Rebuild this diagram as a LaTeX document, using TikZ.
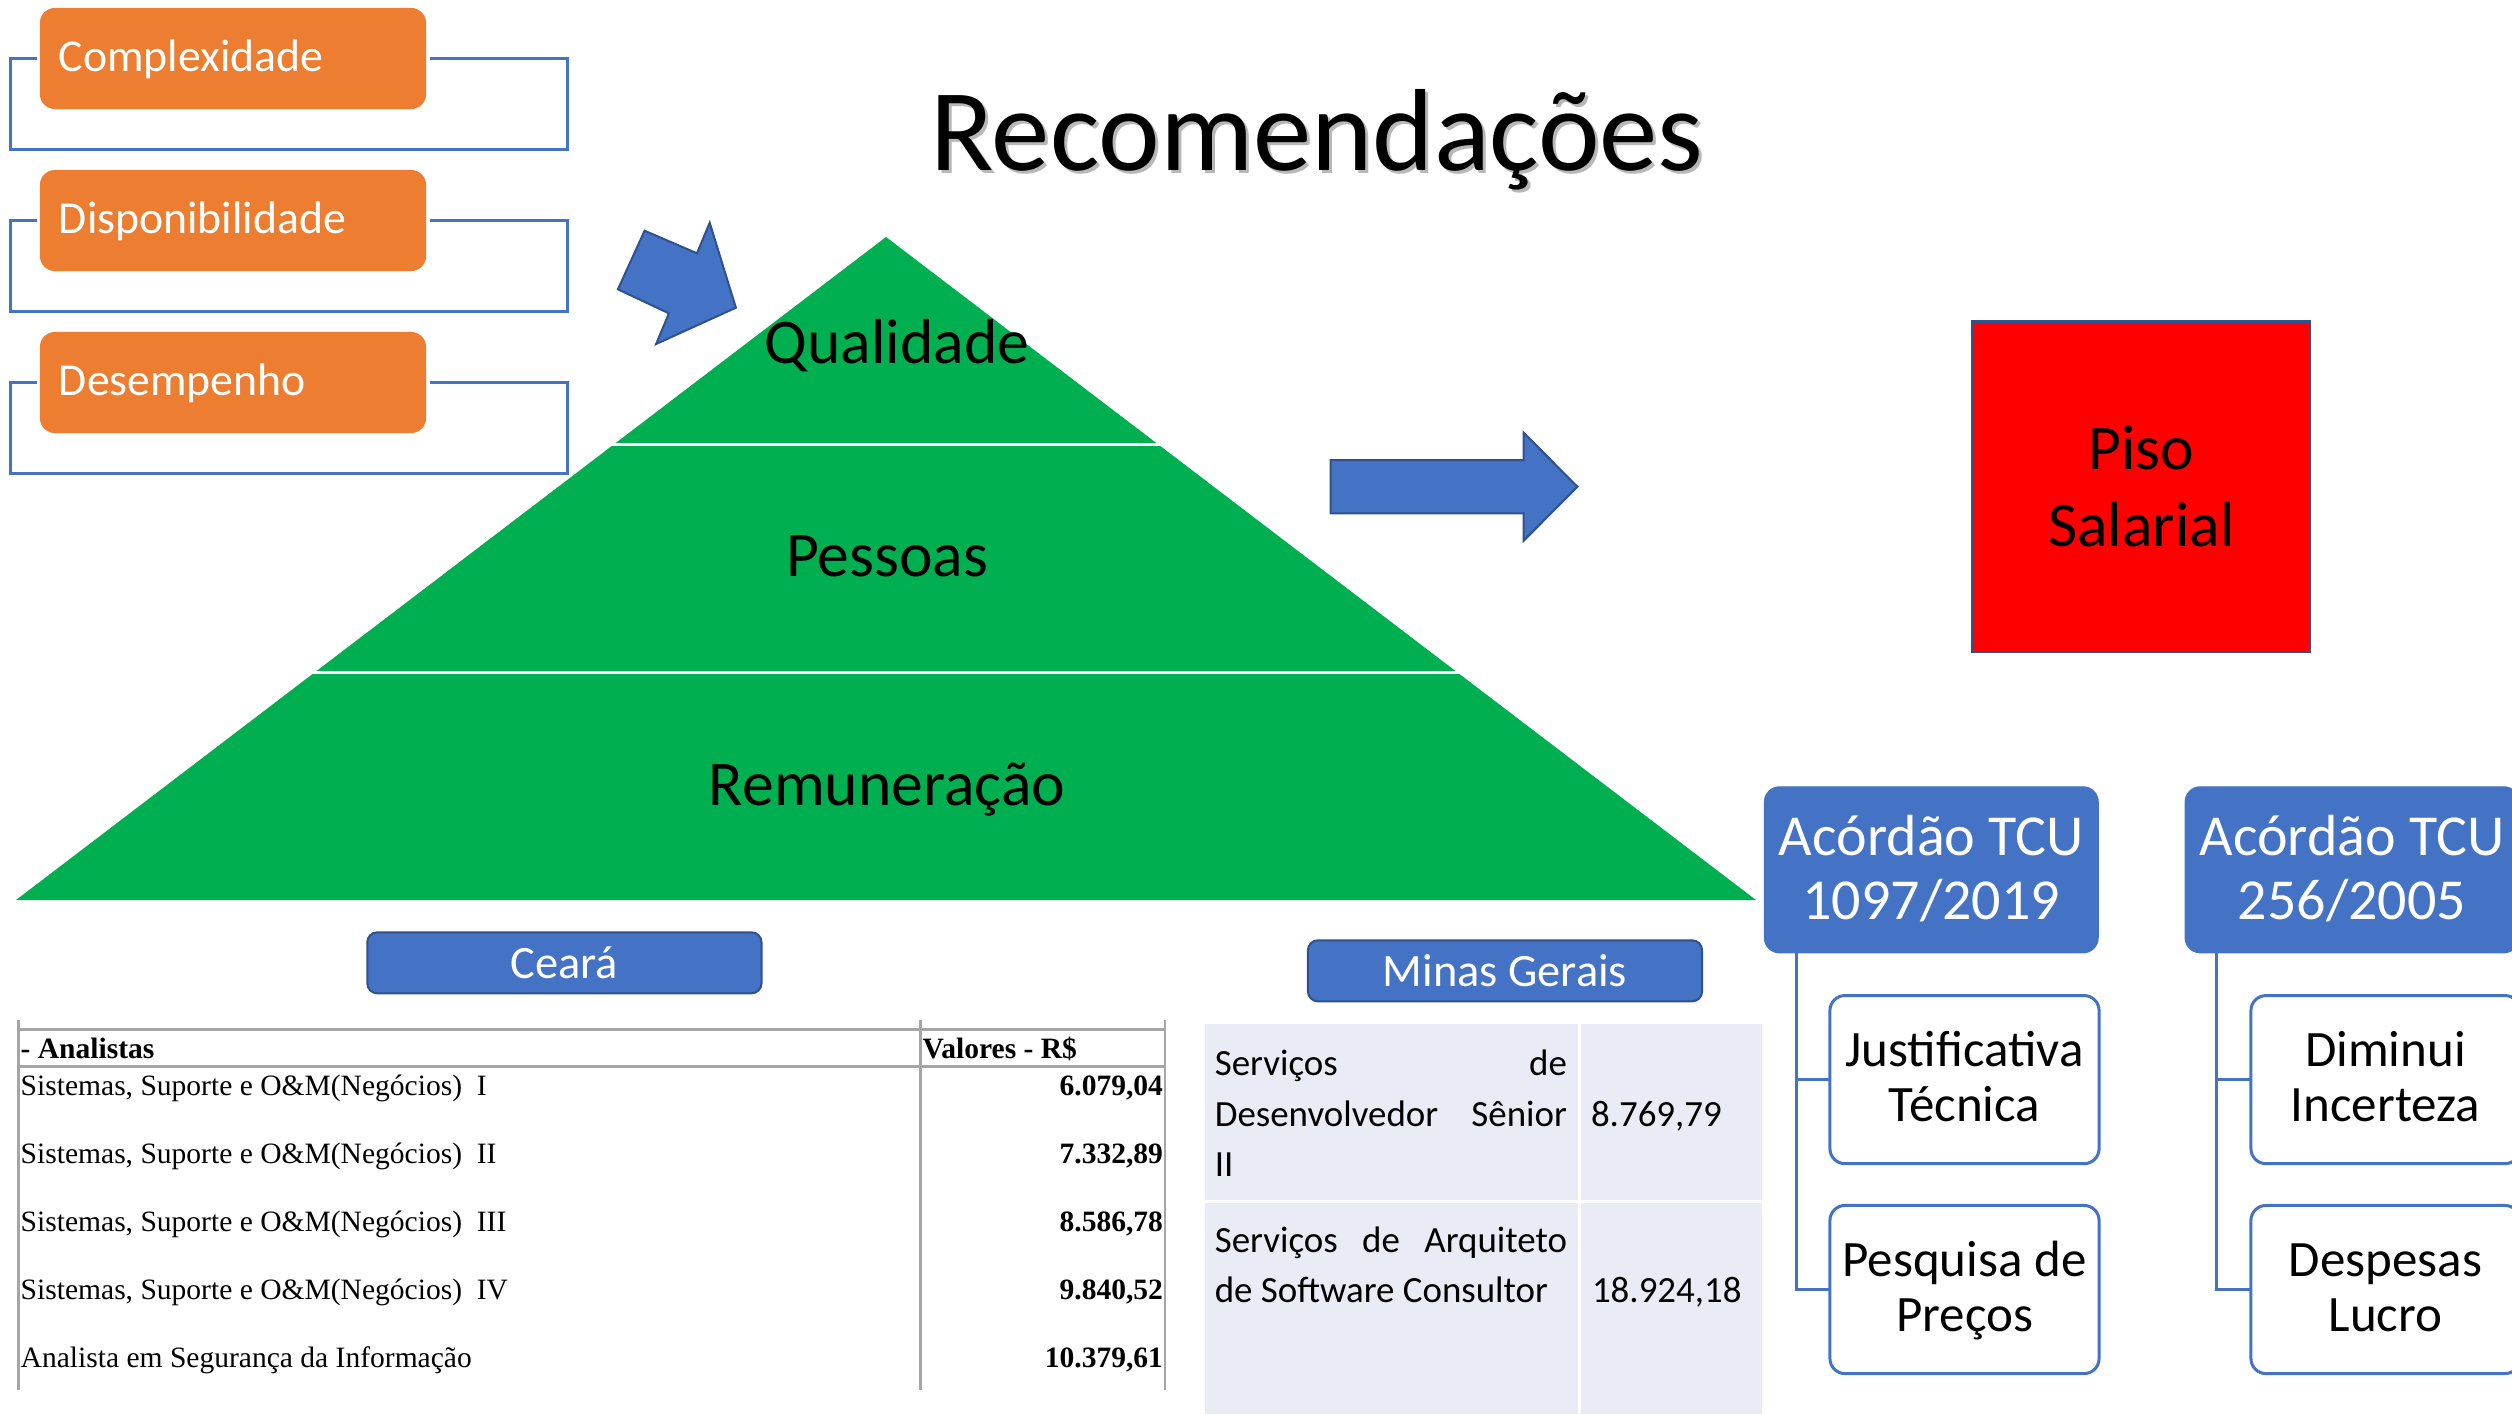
\documentclass[tikz,border=0pt]{standalone}
\usepackage{fontspec}
\setmainfont{Carlito}
\newfontfamily\tnr{Liberation Serif}
\definecolor{cblue}{HTML}{4472C4}
\definecolor{cbluedark}{HTML}{2F528F}
\definecolor{corange}{HTML}{ED7D31}
\definecolor{cgreen}{HTML}{00B050}
\definecolor{cred}{HTML}{FF0000}
\definecolor{ctable}{HTML}{E9EBF5}
\definecolor{cgrid}{HTML}{A6A6A6}
\newcommand{\fsz}[2]{\fontsize{#1}{#2}\selectfont}
\begin{document}
\begin{tikzpicture}[x=0.01cm,y=-0.01cm,
  every node/.style={inner sep=0pt, outer sep=0pt},
  orangebox/.style={rectangle, rounded corners=0.15cm, fill=corange, text=white,
    minimum width=3.86cm, minimum height=1.01cm, text width=3.48cm, align=left,
    inner xsep=0.19cm, text height=0.30cm, text depth=0.05cm, font=\fsz{13}{15}},
  bracket/.style={draw=cblue, line width=0.03cm},
  pyrtext/.style={anchor=base, font=\fsz{18.1}{21}},
  pisobox/.style={rectangle, fill=cred, draw=cbluedark, line width=0.025cm,
    minimum width=3.373cm, minimum height=3.30cm, align=center,
    text height=1.30cm, text depth=0.10cm, font=\fsz{18.1}{21.9}},
  statebtn/.style={rectangle, rounded corners=0.1cm, fill=cblue, draw=cbluedark,
    line width=0.02cm, text=white, minimum width=3.94cm, minimum height=0.61cm,
    text height=0.345cm, text depth=0.03cm, font=\fsz{13.2}{16}},
  acord/.style={rectangle, rounded corners=0.15cm, fill=cblue, draw=cblue, text=white,
    minimum width=3.333cm, minimum height=1.656cm, align=center,
    text height=1.10cm, text depth=0.102cm, font=\fsz{16.5}{18.4}},
  subbox/.style={rectangle, rounded corners=0.15cm, fill=white, draw=cblue,
    line width=0.03cm, minimum width=2.69cm, minimum height=1.68cm, align=center,
    text height=0.93cm, text depth=0.10cm, font=\fsz{14.5}{15.4}},
  conn/.style={draw=cblue, line width=0.03cm},
  bigarrow/.style={fill=cblue, draw=cbluedark, line width=0.02cm},
  grid/.style={draw=cgrid, line width=0.025cm},
  ctext/.style={font=\tnr\fsz{8.4}{10}},
  cbold/.style={font=\tnr\bfseries\fsz{8.4}{10}},
  mtext/.style={font=\fsz{10.5}{14}}
]
\useasboundingbox (0,0) rectangle (2512,1414);
\clip (0,0) rectangle (2512,1414);

% Title
\node[anchor=base, font=\fsz{33.2}{38}, text=black!28] (titleshadow) at (1320,173) {Recomendações};
\node[anchor=base, font=\fsz{33.2}{38}] (title) at (1317,170) {Recomendações};

% Orange boxes with brackets
\node[orangebox] (c1) at (233,58.5) {Complexidade};
\node[orangebox] (c2) at (233,220.5) {Disponibilidade};
\node[orangebox] (c3) at (233,382.5) {Desempenho};
\foreach \b in {c1,c2,c3}{
  \draw[bracket] ([xshift=-0.03cm]\b.west) -| ([shift={(-29.5,40)}]\b.south west)
    -| ([shift={(141,40)}]\b.south east) |- ([xshift=0.04cm]\b.east);
}

% Pyramid
\fill[cgreen] (886,237) -- (1756,900) -- (16,900) -- cycle;
\draw[white, line width=0.03cm] (605,444.5) -- (1167,444.5);
\draw[white, line width=0.03cm] (305,672.5) -- (1467,672.5);
\node[pyrtext] (qual) at (897,363) {Qualidade};
\node[pyrtext] (pess) at (887,576) {Pessoas};
\node[pyrtext] (remu) at (887,805) {Remuneração};

% Arrows
\filldraw[bigarrow] (644.6,230.7) -- (697,253.3) -- (709.7,222.7) -- (735.9,307.7)
  -- (656.1,344) -- (668.9,313.3) -- (617.9,289.3) -- cycle;
\filldraw[bigarrow] (1330.5,460) -- (1523.7,460) -- (1523.7,432.7) -- (1577.4,486.7)
  -- (1523.7,540.7) -- (1523.7,513.3) -- (1330.5,513.3) -- cycle;

% Piso salarial
\node[pisobox] (piso) at (2141.4,486.7) {Piso\\Salarial};

% State buttons
\node[statebtn] (ceara) at (564.4,962.8) {Ceará};
\node[statebtn] (minas) at (1505,970.8) {Minas Gerais};

% Ceara table
\draw[grid] (18.3,1029.5) -- (1165,1029.5);
\draw[grid] (18.3,1066.7) -- (1165,1066.7);
\draw[grid] (18.3,1020) -- (18.3,1390);
\draw[grid] (920.7,1020) -- (920.7,1390);
\draw[grid] (1165,1020) -- (1165,1390);
\node[cbold, anchor=base west] (th1) at (20.7,1058.3) {- Analistas};
\node[cbold, anchor=base west] (th2) at (922.7,1058.3) {Valores - R\$};
\node[ctext, anchor=base west] (r1) at (20.7,1095.5) {Sistemas, Suporte e O\&M(Negócios)\ \ I};
\node[ctext, anchor=base west] (r2) at (20.7,1163.5) {Sistemas, Suporte e O\&M(Negócios)\ \ II};
\node[ctext, anchor=base west] (r3) at (20.7,1231) {Sistemas, Suporte e O\&M(Negócios)\ \ III};
\node[ctext, anchor=base west] (r4) at (20.7,1299) {Sistemas, Suporte e O\&M(Negócios)\ \ IV};
\node[ctext, anchor=base west] (r5) at (20.7,1367) {Analista em Segurança da Informação};
\node[cbold, anchor=base east] (v1) at (1163,1095.5) {6.079,04};
\node[cbold, anchor=base east] (v2) at (1163,1163.5) {7.332,89};
\node[cbold, anchor=base east] (v3) at (1163,1231) {8.586,78};
\node[cbold, anchor=base east] (v4) at (1163,1299) {9.840,52};
\node[cbold, anchor=base east] (v5) at (1163,1367) {10.379,61};

% Minas table
\fill[ctable] (1205,1024) rectangle (1578,1200);
\fill[ctable] (1581,1024) rectangle (1762,1200);
\fill[ctable] (1205,1203) rectangle (1578,1414);
\fill[ctable] (1581,1203) rectangle (1762,1414);
\node[mtext, anchor=base west] (m1a) at (1214.8,1075) {Serviços};
\node[mtext, anchor=base east] (m1b) at (1567,1075) {de};
\node[mtext, anchor=base west] (m1c) at (1214.8,1126.7) {Desenvolvedor};
\node[mtext, anchor=base east] (m1d) at (1567,1126.7) {Sênior};
\node[mtext, anchor=base west] (m1e) at (1214.8,1176.7) {II};
\node[mtext, anchor=base west] (m1v) at (1591,1126.7) {8.769,79};
\node[mtext, anchor=base west] (m2a) at (1214.8,1252) {Serviços};
\node[mtext, anchor=base] (m2b) at (1381,1252) {de};
\node[mtext, anchor=base east] (m2c) at (1567,1252) {Arquiteto};
\node[mtext, anchor=base west] (m2d) at (1214.8,1302) {de Software Consultor};
\node[mtext, anchor=base west] (m2v) at (1592,1302) {18.924,18};

% Acordao hierarchies
\node[acord] (a1) at (1931.3,869.8) {Acórdão TCU\\1097/2019};
\node[acord] (a2) at (2352,869.8) {Acórdão TCU\\256/2005};
\node[subbox] (j1) at (1964.5,1079.6) {Justificativa\\Técnica};
\node[subbox] (p1) at (1964.5,1289.5) {Pesquisa de\\Preços};
\node[subbox] (d1) at (2385.5,1079.6) {Diminui\\Incerteza};
\node[subbox] (l1) at (2385.5,1289.5) {Despesas\\Lucro};
\draw[conn] ([xshift=0.32cm]a1.south west) |- (j1.west);
\draw[conn] ([xshift=0.32cm]a1.south west) |- (p1.west);
\draw[conn] ([xshift=0.31cm]a2.south west) |- (d1.west);
\draw[conn] ([xshift=0.31cm]a2.south west) |- (l1.west);
\end{tikzpicture}
\end{document}
